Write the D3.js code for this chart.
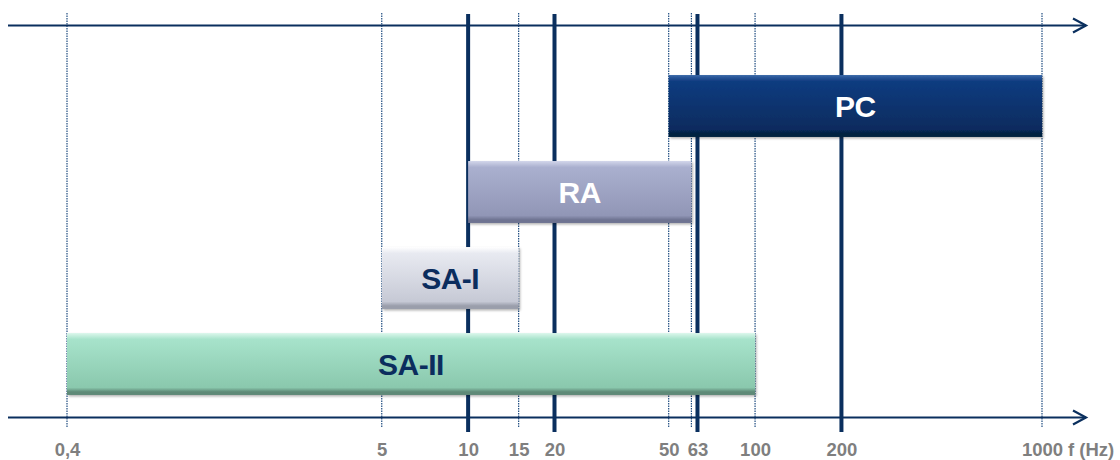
<!DOCTYPE html>
<html>
<head>
<meta charset="utf-8">
<script src="https://cdn.jsdelivr.net/npm/d3@7/dist/d3.min.js"></script>
<style>
  html, body { margin: 0; padding: 0; background: #fff; }
  svg { display: block; }
</style>
</head>
<body>
<svg id="chart" width="1120" height="460"></svg>
<script>
// Mechanoreceptor channels and the frequency band each one responds to
const receptors = ["PC", "RA", "SA-I", "SA-II"];
const lowHz = [50, 10, 5, 0.4];
const highHz = [1000, 60, 15, 100];

// Reference frequencies: solid guides and dotted guides
const solidHz = [10, 20, 63, 200];
const dottedHz = [0.4, 5, 15, 50, 60, 100, 1000];

// Labelled frequencies along the bottom axis
const tickHz = [0.4, 5, 10, 15, 20, 50, 63, 100, 200, 1000];
const unitLabel = "f (Hz)";

const fills = {
  "PC":    { top: "#3a68a8", a: "#0e3c80", b: "#072b5e", edge: "#05203f", text: "#ffffff" },
  "RA":    { top: "#d2d6ea", a: "#aab0cf", b: "#9196b6", edge: "#6e7391", text: "#ffffff" },
  "SA-I":  { top: "#ffffff", a: "#e8eaf1", b: "#c6c9d5", edge: "#9a9eab", text: "#0b2d5e" },
  "SA-II": { top: "#dcf7ec", a: "#a7e3cb", b: "#8ac8ad", edge: "#5f8a78", text: "#0b2d5e" }
};

const navy = "#0a2f5e";
const svg = d3.select("#chart");

const x = d3.scaleLog().domain([0.4, 1000]).range([67, 1042]);
const y = d3.scaleBand().domain(receptors).range([63, 407])
  .paddingInner(0.28).paddingOuter(0.14);

const defs = svg.append("defs");
receptors.forEach((r, i) => {
  const f = fills[r];
  const g = defs.append("linearGradient").attr("id", "grad" + i)
    .attr("x1", 0).attr("y1", 0).attr("x2", 0).attr("y2", 1);
  g.append("stop").attr("offset", "0%").attr("stop-color", f.top);
  g.append("stop").attr("offset", "10%").attr("stop-color", f.a);
  g.append("stop").attr("offset", "88%").attr("stop-color", f.b);
  g.append("stop").attr("offset", "95%").attr("stop-color", f.edge);
  g.append("stop").attr("offset", "100%").attr("stop-color", f.edge);
});
const shadow = defs.append("filter").attr("id", "shadow")
  .attr("x", "-5%").attr("y", "-20%").attr("width", "110%").attr("height", "150%");
shadow.append("feDropShadow").attr("dx", 1.5).attr("dy", 1.5)
  .attr("stdDeviation", 1.2).attr("flood-color", "#000").attr("flood-opacity", 0.3);

// Dotted guides
svg.append("g").selectAll("line").data(dottedHz).join("line")
  .attr("x1", d => x(d)).attr("x2", d => x(d))
  .attr("y1", 13).attr("y2", 428)
  .attr("stroke", "#1f4c80").attr("stroke-width", 1.2)
  .attr("stroke-dasharray", "1.5,1");

// Horizontal frequency axes with open arrowheads
[25.5, 417.5].forEach(yy => {
  svg.append("line").attr("x1", 8).attr("x2", 1086).attr("y1", yy).attr("y2", yy)
    .attr("stroke", navy).attr("stroke-width", 2.2);
  svg.append("path")
    .attr("d", `M1073,${yy - 7}L1086,${yy}L1073,${yy + 7}`)
    .attr("fill", "none").attr("stroke", navy).attr("stroke-width", 2.2);
});

// Solid guides
svg.append("g").selectAll("line").data(solidHz).join("line")
  .attr("x1", d => x(d)).attr("x2", d => x(d))
  .attr("y1", 14).attr("y2", 432)
  .attr("stroke", navy).attr("stroke-width", 4);

// Frequency bands
const bars = svg.append("g").selectAll("g").data(receptors).join("g");
bars.append("rect")
  .attr("x", (d, i) => x(lowHz[i]))
  .attr("width", (d, i) => x(highHz[i]) - x(lowHz[i]))
  .attr("y", d => y(d)).attr("height", y.bandwidth())
  .attr("fill", (d, i) => `url(#grad${i})`)
  .attr("filter", "url(#shadow)");
bars.append("text")
  .attr("x", (d, i) => (x(lowHz[i]) + x(highHz[i])) / 2)
  .attr("y", d => y(d) + y.bandwidth() / 2)
  .attr("dy", "0.36em")
  .attr("text-anchor", "middle")
  .attr("font-family", "Liberation Sans, Arial, sans-serif")
  .attr("font-weight", "bold").attr("font-size", 30)
  .attr("letter-spacing", -0.5)
  .attr("fill", d => fills[d].text)
  .text(d => d);

// Tick labels (decimal comma)
const locale = d3.formatLocale({ decimal: ",", thousands: "", grouping: [3], currency: ["", ""] });
const fmt = locale.format("~g");
const axis = svg.append("g").attr("transform", "translate(0,443)")
  .call(d3.axisBottom(x).tickValues(tickHz).tickFormat(fmt).tickSize(0).tickPadding(0));
axis.select(".domain").remove();
axis.selectAll("text")
  .attr("font-family", "Liberation Sans, Arial, sans-serif")
  .attr("font-weight", "bold").attr("font-size", 18.5)
  .attr("fill", "#7f7f7f");

svg.append("text").attr("x", 1068).attr("y", 456)
  .attr("font-family", "Liberation Sans, Arial, sans-serif")
  .attr("font-weight", "bold").attr("font-size", 18.5)
  .attr("fill", "#7f7f7f").text(unitLabel);
</script>
</body>
</html>
